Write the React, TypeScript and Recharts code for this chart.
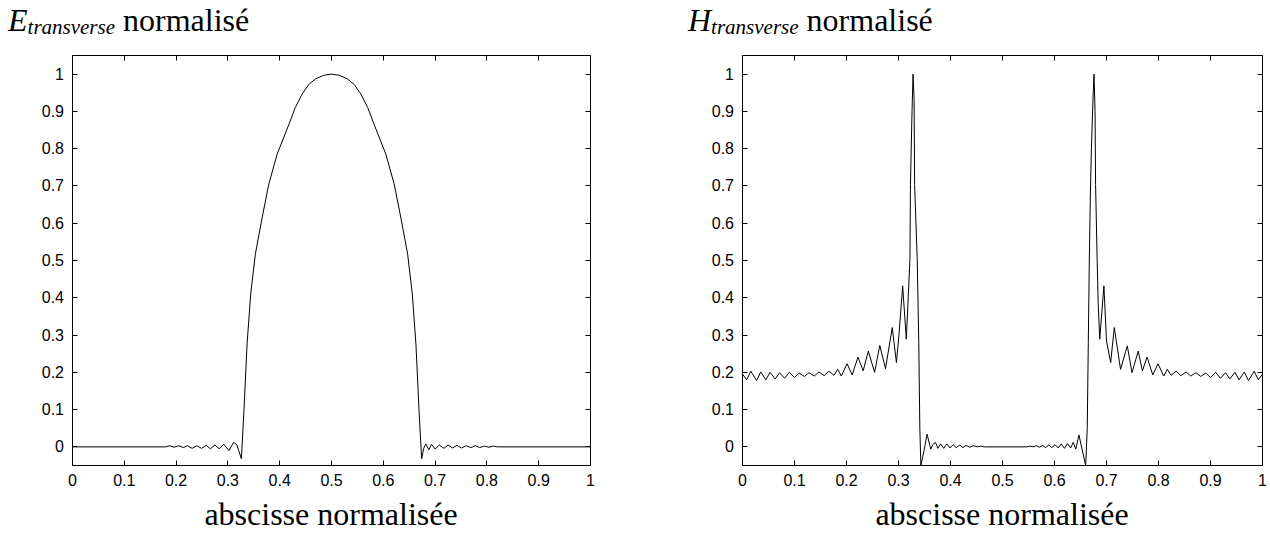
import { LineChart, Line, XAxis, YAxis } from 'recharts';

const xTicks = [0, 0.1, 0.2, 0.3, 0.4, 0.5, 0.6, 0.7, 0.8, 0.9, 1];
const yTicks = [0, 0.1, 0.2, 0.3, 0.4, 0.5, 0.6, 0.7, 0.8, 0.9, 1];
const xDomain = [0, 1];
const yDomain = [-0.05, 1.05];

// E transverse
const eX = [
  0, 0.18, 0.188, 0.196, 0.205, 0.214, 0.222, 0.231, 0.24, 0.249, 0.258, 0.266, 0.275, 0.283, 0.292,
  0.302, 0.311, 0.317, 0.321, 0.326, 0.331, 0.337, 0.344, 0.353, 0.366, 0.379, 0.395, 0.418, 0.43,
  0.443, 0.456, 0.469, 0.485, 0.5, 0.515, 0.531, 0.544, 0.557, 0.57, 0.582, 0.605, 0.621, 0.634,
  0.647, 0.656, 0.663, 0.669, 0.674, 0.678, 0.682, 0.688, 0.693, 0.7, 0.708, 0.717, 0.725, 0.734,
  0.742, 0.751, 0.76, 0.769, 0.778, 0.786, 0.795, 0.804, 0.812, 0.82, 1,
];
const eY = [
  0, 0, 0.003, -0.001, 0.003, -0.002, 0.003, -0.004, 0.003, -0.004, 0.004, -0.005, 0.005, -0.005, 0.007,
  -0.01, 0.012, 0.006, -0.01, -0.032, 0.097, 0.276, 0.41, 0.517, 0.614, 0.705, 0.785, 0.866, 0.91,
  0.946, 0.972, 0.987, 0.997, 1, 0.997, 0.987, 0.972, 0.946, 0.91, 0.866, 0.785, 0.705, 0.614,
  0.517, 0.41, 0.276, 0.097, -0.032, -0.004, 0.008, -0.008, 0.007, -0.006, 0.005, -0.004, 0.005, -0.003,
  0.004, -0.003, 0.003, -0.002, 0.003, -0.002, 0.002, -0.001, 0.002, 0, 0,
];

// H transverse
const hX = [
  0, 0.008, 0.016, 0.027, 0.035, 0.045, 0.053, 0.063, 0.071, 0.081, 0.09, 0.1, 0.109, 0.119, 0.128,
  0.138, 0.147, 0.157, 0.166, 0.176, 0.183, 0.19, 0.201, 0.211, 0.222, 0.232, 0.242, 0.254, 0.264,
  0.275, 0.288, 0.296, 0.301, 0.308, 0.315, 0.322, 0.323, 0.326, 0.328, 0.33, 0.331, 0.336, 0.339,
  0.341, 0.343, 0.349, 0.355, 0.362, 0.366, 0.371, 0.376, 0.381, 0.387, 0.393, 0.399, 0.405, 0.411,
  0.418, 0.424, 0.43, 0.437, 0.444, 0.452, 0.458, 0.465, 0.547, 0.553, 0.559, 0.565, 0.571, 0.577,
  0.583, 0.589, 0.595, 0.601, 0.607, 0.613, 0.619, 0.625, 0.631, 0.636, 0.641, 0.647, 0.653, 0.66,
  0.663, 0.665, 0.667, 0.669, 0.671, 0.674, 0.676, 0.678, 0.679, 0.682, 0.684, 0.687, 0.695, 0.7,
  0.708, 0.715, 0.727, 0.74, 0.749, 0.761, 0.769, 0.778, 0.789, 0.799, 0.81, 0.817, 0.824, 0.834,
  0.843, 0.853, 0.862, 0.872, 0.881, 0.891, 0.9, 0.91, 0.919, 0.929, 0.937, 0.947, 0.955, 0.965,
  0.973, 0.984, 0.992, 1,
];
const hY = [
  0.195, 0.18, 0.203, 0.178, 0.201, 0.18, 0.2, 0.182, 0.199, 0.184, 0.2, 0.186, 0.198, 0.189, 0.199,
  0.19, 0.201, 0.191, 0.203, 0.192, 0.208, 0.19, 0.223, 0.193, 0.241, 0.204, 0.257, 0.2, 0.272,
  0.21, 0.32, 0.226, 0.302, 0.432, 0.289, 0.503, 0.704, 0.9, 1, 0.932, 0.704, 0.503, 0.28,
  0.052, -0.05, -0.011, 0.034, -0.006, 0.006, 0.012, -0.004, 0.008, -0.004, 0.008, -0.003, 0.006, -0.002,
  0.005, -0.002, 0.004, -0.001, 0.003, 0, 0.002, 0, 0, 0.002, 0, 0.003, -0.001, 0.004,
  -0.002, 0.005, -0.002, 0.006, -0.003, 0.008, -0.004, 0.009, -0.003, 0.012, -0.006, 0.032, -0.006, -0.05,
  0.052, 0.28, 0.504, 0.678, 0.8, 0.932, 1, 0.9, 0.704, 0.503, 0.387, 0.289, 0.432, 0.284,
  0.226, 0.32, 0.208, 0.271, 0.199, 0.257, 0.204, 0.241, 0.193, 0.223, 0.19, 0.208, 0.192, 0.203,
  0.191, 0.201, 0.19, 0.199, 0.189, 0.198, 0.186, 0.2, 0.184, 0.199, 0.182, 0.2, 0.18, 0.201,
  0.178, 0.203, 0.18, 0.195,
];

const eData = eX.map((x, i) => ({ x, y: eY[i] }));
const hData = hX.map((x, i) => ({ x, y: hY[i] }));

const sans = '"Liberation Sans", Arial, sans-serif';
const serif = '"Liberation Serif", "Times New Roman", serif';
const black = { stroke: '#000' };
const TICK = 5;

const BottomLabel = ({ x, y, payload }: any) => (
  <text x={x} y={y + 20.5} textAnchor="middle" fontSize={16} fontFamily={sans} fill="#000">
    {payload.value}
  </text>
);
const LeftLabel = ({ x, y, payload }: any) => (
  <text x={x - 8.5} y={y + 5.5} textAnchor="end" fontSize={16} fontFamily={sans} fill="#000">
    {payload.value}
  </text>
);

interface PlotProps {
  data: { x: number; y: number }[];
  width: number;
  margin: { top: number; right: number; bottom: number; left: number };
}

function FieldPlot({ data, width, margin }: PlotProps) {
  return (
    <LineChart width={width} height={538} data={data} margin={margin}>
      <XAxis
        xAxisId="b"
        dataKey="x"
        type="number"
        domain={xDomain}
        ticks={xTicks}
        interval={0}
        height={30}
        tickSize={0}
        tickMargin={0}
        tickLine={false}
        tick={BottomLabel}
        axisLine={black}
      />
      <XAxis
        xAxisId="t"
        dataKey="x"
        orientation="top"
        type="number"
        domain={xDomain}
        height={2}
        tick={false}
        tickLine={false}
        axisLine={black}
      />
      <YAxis
        yAxisId="l"
        type="number"
        domain={yDomain}
        ticks={yTicks}
        interval={0}
        width={72}
        tickSize={0}
        tickMargin={0}
        tickLine={false}
        tick={LeftLabel}
        axisLine={black}
      />
      <YAxis
        yAxisId="r"
        orientation="right"
        type="number"
        domain={yDomain}
        width={2}
        tick={false}
        tickLine={false}
        axisLine={black}
      />
      <Line
        xAxisId="t"
        yAxisId="r"
        dataKey="y"
        type="linear"
        stroke="none"
        dot={false}
        activeDot={false}
        isAnimationActive={false}
      />
      <Line
        xAxisId="b"
        yAxisId="l"
        dataKey="y"
        type="linear"
        stroke="#000"
        strokeWidth={1}
        dot={false}
        isAnimationActive={false}
      />
    </LineChart>
  );
}

// inward tick marks on all four sides of a plot box (page pixels)
function BoxTicks({ left, right, top, bottom }: { left: number; right: number; top: number; bottom: number }) {
  const px = (v: number) =>
    Math.floor(left + ((v - xDomain[0]) / (xDomain[1] - xDomain[0])) * (right - left)) + 0.5;
  const py = (v: number) =>
    Math.floor(bottom - ((v - yDomain[0]) / (yDomain[1] - yDomain[0])) * (bottom - top)) + 0.5;
  return (
    <g stroke="#000" strokeWidth={1}>
      {xTicks.map((t) => (
        <g key={`x${t}`}>
          <line x1={px(t)} y1={bottom} x2={px(t)} y2={bottom - TICK} />
          <line x1={px(t)} y1={top} x2={px(t)} y2={top + TICK} />
        </g>
      ))}
      {yTicks.map((t) => (
        <g key={`y${t}`}>
          <line x1={left} y1={py(t)} x2={left + TICK} y2={py(t)} />
          <line x1={right} y1={py(t)} x2={right - TICK} y2={py(t)} />
        </g>
      ))}
    </g>
  );
}

export default function App() {
  return (
    <div style={{ position: 'absolute', left: 0, top: 0, width: 1270, height: 538, background: '#fff' }}>
      <div style={{ position: 'absolute', left: 0, top: 0 }}>
        <FieldPlot data={eData} width={640} margin={{ top: 53.5, right: 47.5, bottom: 42.5, left: 0.5 }} />
      </div>
      <div style={{ position: 'absolute', left: 640, top: 0 }}>
        <FieldPlot data={hData} width={630} margin={{ top: 53.5, right: 5.5, bottom: 42.5, left: 30.5 }} />
      </div>
      <svg
        width={1270}
        height={538}
        style={{ position: 'absolute', left: 0, top: 0, pointerEvents: 'none' }}
      >
        <BoxTicks left={72.5} right={590.5} top={55.5} bottom={465.5} />
        <BoxTicks left={742.5} right={1262.5} top={55.5} bottom={465.5} />
        <text x={8} y={31} fontFamily={serif} fontSize={32} fill="#000">
          <tspan fontStyle="italic">E</tspan>
          <tspan fontStyle="italic" fontSize={21} dy={3}>transverse</tspan>
          <tspan dy={-3}> normalisé</tspan>
        </text>
        <text x={688} y={31} fontFamily={serif} fontSize={32} fill="#000">
          <tspan fontStyle="italic">H</tspan>
          <tspan fontStyle="italic" fontSize={21} dy={3}>transverse</tspan>
          <tspan dy={-3}> normalisé</tspan>
        </text>
        <text x={331} y={525} textAnchor="middle" fontFamily={serif} fontSize={32} fill="#000">
          abscisse normalisée
        </text>
        <text x={1002} y={525} textAnchor="middle" fontFamily={serif} fontSize={32} fill="#000">
          abscisse normalisée
        </text>
      </svg>
    </div>
  );
}
